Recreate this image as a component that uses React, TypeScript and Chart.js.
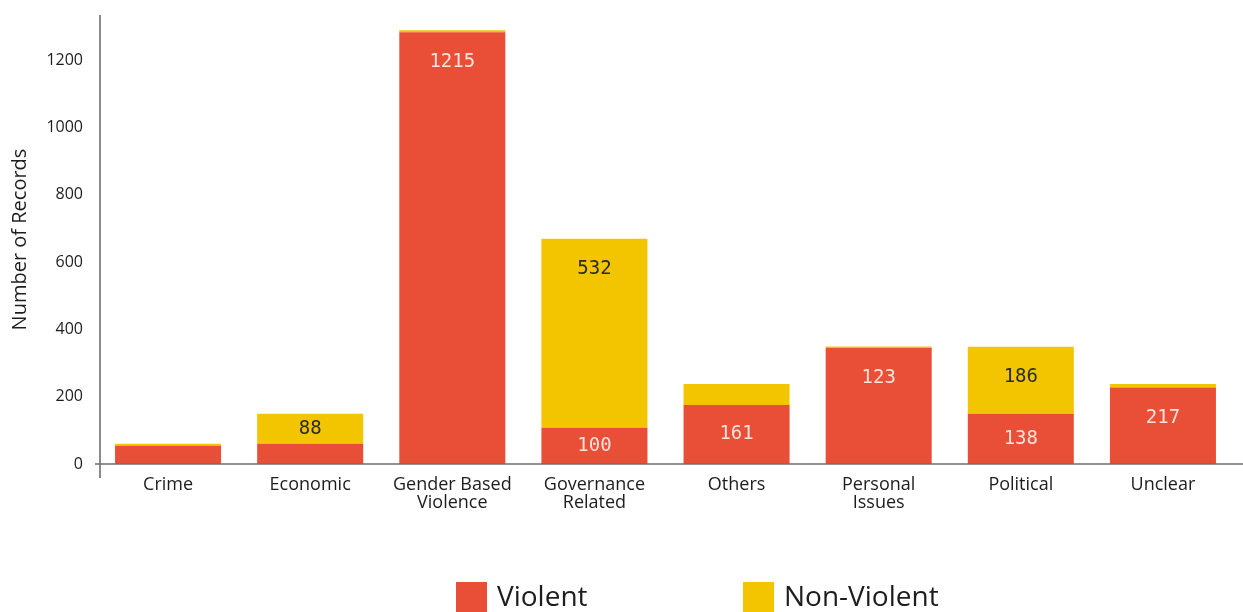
import React, { useEffect, useRef } from 'react';
import { Chart, registerables } from 'chart.js';

Chart.register(...registerables);

const categories: (string | string[])[] = [
  'Crime',
  'Economic',
  ['Gender Based', 'Violence'],
  ['Governance', 'Related'],
  'Others',
  ['Personal', 'Issues'],
  'Political',
  'Unclear',
];

const violent = [54, 60, 1283, 108, 175, 345, 149, 227];
const nonViolent = [6, 89, 6, 561, 63, 4, 199, 11];

const violentLabels: (string | null)[] = [null, null, '1215', '100', '161', '123', '138', '217'];
const nonViolentLabels: (string | null)[] = [null, '88', null, '532', null, null, '186', null];

const yTickStep = 200;

const RED = '#E94E37';
const YELLOW = '#F2C500';
const TEXT = '#1e1c1d';
const AXIS = '#6e6e6e';
const FONT = '"Open Sans", "Noto Sans", sans-serif';

export default function App() {
  const ref = useRef<HTMLCanvasElement>(null);

  useEffect(() => {
    const canvas = ref.current;
    if (!canvas) return;

    const axisLines = {
      id: 'axisLines',
      afterDraw(chart: any) {
        const { ctx, chartArea } = chart;
        ctx.save();
        ctx.strokeStyle = AXIS;
        ctx.lineWidth = 1.6;
        const ax = chartArea.left + 3;
        ctx.beginPath();
        ctx.moveTo(ax, chartArea.top);
        ctx.lineTo(ax, chartArea.bottom + 14);
        ctx.stroke();
        ctx.beginPath();
        ctx.moveTo(ax - 5, chartArea.bottom);
        ctx.lineTo(chart.width, chartArea.bottom);
        ctx.stroke();
        ctx.restore();
      },
    };

    const valueLabels = {
      id: 'valueLabels',
      afterDatasetsDraw(chart: any) {
        const { ctx } = chart;
        const labelSets = [violentLabels, nonViolentLabels];
        const colors = ['#fde3dc', '#2b2b2b'];
        ctx.save();
        ctx.font = '19px "DejaVu Sans Mono", monospace';
        ctx.textAlign = 'center';
        ctx.textBaseline = 'middle';
        chart.data.datasets.forEach((_ds: any, di: number) => {
          const meta = chart.getDatasetMeta(di);
          meta.data.forEach((bar: any, i: number) => {
            const txt = labelSets[di][i];
            if (!txt) return;
            const top = Math.min(bar.y, bar.base);
            const h = Math.abs(bar.base - bar.y);
            const y = top + Math.min(h / 2, 30);
            ctx.fillStyle = colors[di];
            ctx.fillText(txt, bar.x, y);
          });
        });
        ctx.restore();
      },
    };

    const customLegend = {
      id: 'customLegend',
      afterDraw(chart: any, _args: any, opts: any) {
        const { ctx } = chart;
        ctx.save();
        ctx.font = `28px ${FONT}`;
        ctx.textBaseline = 'middle';
        ctx.textAlign = 'left';
        chart.data.datasets.forEach((ds: any, i: number) => {
          const x = opts.x + i * opts.gap;
          ctx.fillStyle = ds.backgroundColor;
          ctx.fillRect(x, opts.top, opts.box, opts.box);
          ctx.fillStyle = TEXT;
          ctx.fillText(ds.label, x + opts.box + 10, opts.top + opts.box / 2 + 1);
        });
        ctx.restore();
      },
    };

    const chart = new Chart(canvas, {
      type: 'bar',
      data: {
        labels: categories,
        datasets: [
          { label: 'Violent', data: violent, backgroundColor: RED, borderWidth: 0, barPercentage: 0.746, categoryPercentage: 1 },
          { label: 'Non-Violent', data: nonViolent, backgroundColor: YELLOW, borderWidth: 0, barPercentage: 0.746, categoryPercentage: 1 },
        ],
      },
      options: {
        animation: false,
        responsive: true,
        maintainAspectRatio: false,
        layout: { padding: { top: 15, right: 9, bottom: 51, left: 0 } },
        plugins: {
          legend: { display: false },
          tooltip: { enabled: false },
          customLegend: { x: 456, gap: 287, top: 582, box: 31 },
        } as any,
        scales: {
          x: {
            stacked: true,
            grid: { display: false, drawTicks: false },
            border: { display: false },
            ticks: {
              color: TEXT,
              font: { family: FONT, size: 18, lineHeight: 1.0 },
              padding: 12,
              maxRotation: 0,
              autoSkip: false,
            },
            afterFit(scale: any) {
              scale.height = 108;
            },
          },
          y: {
            stacked: true,
            min: 0,
            max: 1334,
            grid: { display: false, drawTicks: false },
            border: { display: false },
            ticks: {
              stepSize: yTickStep,
              color: TEXT,
              font: { family: FONT, size: 16 },
              padding: 14,
              callback: (v: any) => String(v),
            },
            afterBuildTicks(scale: any) {
              scale.ticks = scale.ticks.filter((t: any) => t.value % yTickStep === 0);
            },
            afterFit(scale: any) {
              scale.width = 97;
              scale.paddingTop = 0;
            },
            title: {
              display: true,
              text: 'Number of Records',
              color: TEXT,
              font: { family: FONT, size: 20 },
              padding: { top: 8, bottom: 0 },
            },
          },
        },
      },
      plugins: [axisLines, valueLabels, customLegend],
    });

    return () => chart.destroy();
  }, []);

  return (
    <div style={{ position: 'fixed', left: 0, top: 0, width: 1243, height: 623 }}>
      <canvas ref={ref} />
    </div>
  );
}
